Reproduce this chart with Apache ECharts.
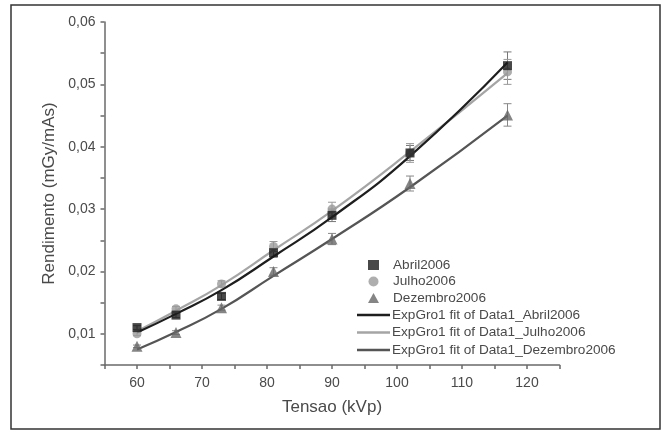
<!DOCTYPE html>
<html>
<head>
<meta charset="utf-8">
<script src="https://cdn.jsdelivr.net/npm/echarts@6/dist/echarts.min.js"></script>
<style>
html,body{margin:0;padding:0;background:#fff;}
#c{width:663px;height:431px;}
</style>
</head>
<body>
<div id="c"></div>
<script>
// ---- data ----
var xValues = [60, 66, 73, 81, 90, 102, 117];

var abrilValues    = [0.0110, 0.0130, 0.0160, 0.0230, 0.0290, 0.0390, 0.0530];
var julhoValues    = [0.0100, 0.0140, 0.0180, 0.0240, 0.0300, 0.0390, 0.0520];
var dezembroValues = [0.0080, 0.0102, 0.0142, 0.0200, 0.0252, 0.0341, 0.0451];

var abrilErrors    = [0.0003, 0.0004, 0.0005, 0.0007, 0.0010, 0.0012, 0.0022];
var julhoErrors    = [0.0003, 0.0004, 0.0005, 0.0008, 0.0011, 0.0015, 0.0020];
var dezembroErrors = [0.0002, 0.0003, 0.0004, 0.0006, 0.0009, 0.0012, 0.0018];

var fitX           = [60, 66, 73, 81, 90, 102, 117];
var abrilFit       = [0.0102, 0.0132, 0.0170, 0.0224, 0.0287, 0.0385, 0.0535];
var julhoFit       = [0.0104, 0.0137, 0.0178, 0.0234, 0.0297, 0.0392, 0.0518];
var dezembroFit    = [0.0075, 0.0103, 0.0140, 0.0193, 0.0252, 0.0335, 0.0450];

var seriesNames = ['Abril2006', 'Julho2006', 'Dezembro2006'];
var fitNames = ['ExpGro1 fit of Data1_Abril2006', 'ExpGro1 fit of Data1_Julho2006', 'ExpGro1 fit of Data1_Dezembro2006'];

var xTickLabels = ['60', '70', '80', '90', '100', '110', '120'];
var yTickLabels = ['0,01', '0,02', '0,03', '0,04', '0,05', '0,06'];

function pairs(xs, ys) { return xs.map(function (x, i) { return [x, ys[i]]; }); }
function errPairs(xs, ys, es) { return xs.map(function (x, i) { return [x, ys[i] - es[i], ys[i] + es[i]]; }); }

function errorSeries(data, color) {
  return {
    type: 'custom',
    silent: true,
    z: 1,
    data: data,
    renderItem: function (params, api) {
      var x = api.value(0);
      var lo = api.coord([x, api.value(1)]);
      var hi = api.coord([x, api.value(2)]);
      var hw = 4;
      var st = { stroke: color, lineWidth: 1 };
      return {
        type: 'group',
        children: [
          { type: 'line', shape: { x1: lo[0], y1: lo[1], x2: hi[0], y2: hi[1] }, style: st },
          { type: 'line', shape: { x1: lo[0] - hw, y1: lo[1], x2: lo[0] + hw, y2: lo[1] }, style: st },
          { type: 'line', shape: { x1: hi[0] - hw, y1: hi[1], x2: hi[0] + hw, y2: hi[1] }, style: st }
        ]
      };
    }
  };
}

var textColor = '#4a4a4a';
var font = 'Liberation Sans, Arial, sans-serif';

var chart = echarts.init(document.getElementById('c'), null, { renderer: 'canvas' });
chart.setOption({
  backgroundColor: '#fff',
  animation: false,
  graphic: [{
    type: 'rect',
    shape: { x: 11, y: 5, width: 649, height: 424 },
    style: { fill: 'none', stroke: '#333', lineWidth: 1.5 },
    silent: true
  }],
  grid: { left: 104.5, right: 103.5, top: 22, bottom: 66 },
  xAxis: {
    type: 'value',
    min: 55, max: 125, interval: 5,
    name: 'Tensao (kVp)',
    nameLocation: 'middle',
    nameGap: 34,
    nameTextStyle: { color: textColor, fontSize: 17, fontFamily: font },
    axisLine: { onZero: false, lineStyle: { color: '#6a6a6a', width: 1.5 } },
    axisTick: { inside: false, length: 4, lineStyle: { color: '#6a6a6a', width: 1.5 } },
    axisLabel: {
      color: textColor, fontSize: 14, fontFamily: font, margin: 11,
      formatter: function (v) {
        var s = String(Math.round(v));
        return xTickLabels.indexOf(s) >= 0 ? s : '';
      }
    },
    splitLine: { show: false }
  },
  yAxis: {
    type: 'value',
    min: 0.005, max: 0.06, interval: 0.005,
    name: 'Rendimento (mGy/mAs)',
    nameLocation: 'middle',
    nameGap: 47,
    nameTextStyle: { color: textColor, fontSize: 17, fontFamily: font },
    axisLine: { onZero: false, lineStyle: { color: '#6a6a6a', width: 1.5 } },
    axisTick: { inside: false, length: 4, lineStyle: { color: '#6a6a6a', width: 1.5 } },
    axisLabel: {
      color: textColor, fontSize: 14, fontFamily: font, margin: 9,
      formatter: function (v) {
        var s = (Math.round(v * 1000) / 1000).toFixed(3);
        var t = s.slice(0, 4).replace('.', ',');
        return (s.slice(-1) === '0' && yTickLabels.indexOf(t) >= 0) ? t : '';
      }
    },
    splitLine: { show: false }
  },
  legend: [{
    orient: 'vertical',
    left: 363, top: 253,
    itemWidth: 11, itemHeight: 10, itemGap: 2.5,
    data: seriesNames,
    textStyle: { color: textColor, fontSize: 13.6, fontFamily: font, padding: [0, 0, 0, 9] }
  }, {
    orient: 'vertical',
    left: 352, top: 303,
    icon: 'rect',
    itemWidth: 33, itemHeight: 2.5, itemGap: 3.5,
    data: fitNames,
    textStyle: { color: textColor, fontSize: 13.6, fontFamily: font, padding: [0, 0, 0, -3] }
  }],
  series: [
    errorSeries(errPairs(xValues, abrilValues, abrilErrors), '#777'),
    errorSeries(errPairs(xValues, julhoValues, julhoErrors), '#999'),
    errorSeries(errPairs(xValues, dezembroValues, dezembroErrors), '#888'),
    {
      name: fitNames[0], type: 'line', smooth: true, showSymbol: false, z: 3,
      data: pairs(fitX, abrilFit),
      lineStyle: { color: '#1e1e1e', width: 2.2 }, itemStyle: { color: '#1e1e1e' }
    },
    {
      name: fitNames[1], type: 'line', smooth: true, showSymbol: false, z: 2,
      data: pairs(fitX, julhoFit),
      lineStyle: { color: '#a5a5a5', width: 2.2 }, itemStyle: { color: '#a5a5a5' }
    },
    {
      name: fitNames[2], type: 'line', smooth: true, showSymbol: false, z: 2,
      data: pairs(fitX, dezembroFit),
      lineStyle: { color: '#555555', width: 2.2 }, itemStyle: { color: '#555555' }
    },
    {
      name: seriesNames[0], type: 'scatter', symbol: 'rect', symbolSize: 9, z: 5,
      data: pairs(xValues, abrilValues), itemStyle: { color: '#1a1a1a' }
    },
    {
      name: seriesNames[1], type: 'scatter', symbol: 'circle', symbolSize: 9, z: 4,
      data: pairs(xValues, julhoValues), itemStyle: { color: '#9a9a9a' }
    },
    {
      name: seriesNames[2], type: 'scatter', symbol: 'triangle', symbolSize: 11, z: 4,
      data: pairs(xValues, dezembroValues), itemStyle: { color: '#666666' }
    }
  ]
});
</script>
</body>
</html>
